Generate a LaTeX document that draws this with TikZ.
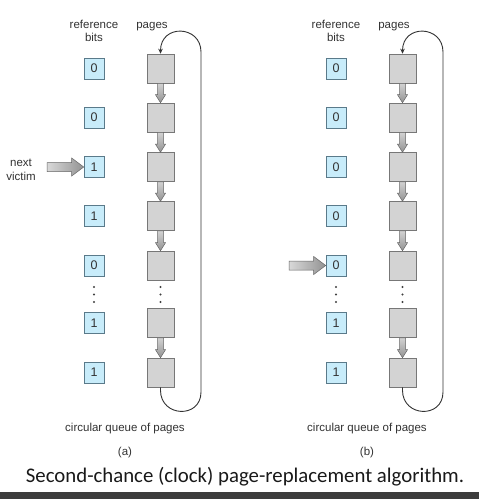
\documentclass[tikz,border=0pt]{standalone}
\usepackage{fontspec}
\setmainfont{Liberation Sans}
\newfontfamily\capfont{Carlito}
\usetikzlibrary{calc,arrows.meta}
\definecolor{bitfill}{HTML}{C8ECFA}
\definecolor{bitdraw}{HTML}{5A7A8A}
\definecolor{pagefill}{HTML}{D3D3D3}
\definecolor{pagedraw}{HTML}{777777}
\definecolor{barcol}{HTML}{3C3C3C}
\definecolor{txt}{HTML}{333333}
\newcommand\varrow[2]{\path[fatarrowv] let \p1=(#1.south), \p2=(#2.north) in
  (\x1-3pt,\y1) -- (\x1+3pt,\y1) -- (\x1+3pt,\y2+8pt) -- (\x1+5pt,\y2+8pt) -- (\x1,\y2)
  -- (\x1-5pt,\y2+8pt) -- (\x1-3pt,\y2+8pt) -- cycle;}
\newcommand\harrow[2]{\path[fatarrowh] let \p1=(#1), \p2=(#2.west) in
  (\x1,\y2+4.5pt) -- (\x2-12pt,\y2+4.5pt) -- (\x2-12pt,\y2+9pt) -- (\x2,\y2)
  -- (\x2-12pt,\y2-9pt) -- (\x2-12pt,\y2-4.5pt) -- (\x1,\y2-4.5pt) -- cycle;}
\begin{document}
\begin{tikzpicture}[x=1pt,y=-1pt,
  bitbox/.style={draw=bitdraw, fill=bitfill, minimum width=20pt, minimum height=21pt,
    inner sep=0pt, line width=0.6pt, text=txt, font=\fontsize{12.5}{13}\selectfont},
  pagebox/.style={draw=pagedraw, fill=pagefill, minimum width=27pt, minimum height=29pt,
    inner sep=0pt, line width=0.6pt},
  lbl/.style={font=\fontsize{11.5}{13}\selectfont, text=txt, anchor=base, inner sep=0pt},
  loopline/.style={draw=black!80, line width=0.9pt},
  fatarrowv/.style={draw=black!60, line width=0.5pt, top color=gray!35, bottom color=gray!85},
  fatarrowh/.style={draw=black!60, line width=0.5pt, left color=gray!30, right color=gray!85},
  dotmark/.style={fill=black!75}]
\useasboundingbox (0,0) rectangle (479,499);
\fill[white] (0,0) rectangle (479,499);

\foreach \pn/\ox/\bits/\vic in {a/0/{0,0,1,1,0,1,1}/3, b/242/{0,0,0,0,0,1,1}/5}{
  \node[lbl] (\pn-ref) at (94+\ox,28) {reference};
  \node[lbl] (\pn-bits) at (94+\ox,41) {bits};
  \node[lbl] (\pn-pages) at (152+\ox,28) {pages};
  \foreach \v [count=\i] in \bits {
    \pgfmathsetmacro\yy{{68.5,117.5,167,216,265.5,323,372.5}[\i-1]}
    \node[bitbox] (\pn-b\i) at (94+\ox,\yy) {\v};
    \node[pagebox] (\pn-p\i) at (160.5+\ox,\yy) {};
  }
  \foreach \i/\j in {1/2,2/3,3/4,4/5,6/7} {\varrow{\pn-p\i}{\pn-p\j}}
  \foreach \dy in {287,294.5,302} {
    \fill[dotmark] (94+\ox,\dy) circle (1.1pt);
    \fill[dotmark] (160.5+\ox,\dy) circle (1.1pt);
  }
  \coordinate (\pn-rt) at (201+\ox,52);
  \coordinate (\pn-rb) at (201+\ox,392);
  \draw[loopline, -{Stealth[length=5pt,width=4.5pt]}] (\pn-p7.south) -- ++(0,3)
    .. controls +(0,27) and +(0,27) .. (\pn-rb) -- (\pn-rt)
    .. controls +(0,-27) and +(0,-27) .. ($(\pn-p1.north)+(0,-3)$) -- (\pn-p1.north);
  \coordinate (\pn-tail) at (47+\ox,167);
  \harrow{\pn-tail}{\pn-b\vic}
  \node[lbl] (\pn-cq) at (125+\ox,431) {circular queue of pages};
  \node[lbl] (\pn-lab) at (125+\ox,455) {(\pn)};
}
\node[lbl] (nv1) at (21,166) {next};
\node[lbl] (nv2) at (21,180) {victim};
\node[font=\capfont\fontsize{20.8}{24}\selectfont, anchor=base, inner sep=0pt, text=black!90] (cap) at (245,482) {Second-chance (clock) page-replacement algorithm.};
\fill[barcol] (0,492) rectangle (479,499);
\end{tikzpicture}
\end{document}
